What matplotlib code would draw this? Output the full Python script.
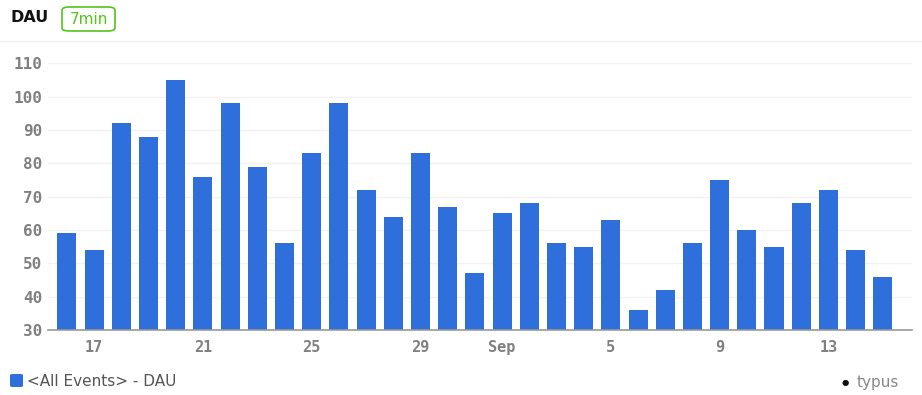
import matplotlib.pyplot as plt
from matplotlib.patches import FancyBboxPatch
import numpy as np

# daily active users, Aug 16 -> Sep 15
days = list(range(16, 32)) + list(range(1, 16))
dau = [59, 54, 92, 88, 105, 76, 98, 79, 56, 83, 98, 72, 64, 83, 67, 47,
       65, 68, 56, 55, 63, 36, 42, 56, 75, 60, 55, 68, 72, 54, 46]
tick_idx = [1, 5, 9, 13, 16, 20, 24, 28]
tick_labels = ["17", "21", "25", "29", "Sep", "5", "9", "13"]
yticks = [30, 40, 50, 60, 70, 80, 90, 100, 110]

blue = "#2f6fdc"
grey = "#808080"

fig = plt.figure(figsize=(9.22, 3.95), dpi=100)
ax = fig.add_axes([0.052, 0.1646, 0.937, 0.709])

x = np.arange(len(dau))
ax.bar(x, dau, width=0.7, color=blue, zorder=3)

ax.set_ylim(30, 114)
ax.set_xlim(-0.7, len(dau) - 1 + 1.07)
ax.set_yticks(yticks)
ax.set_yticklabels([str(v) for v in yticks], family="DejaVu Sans Mono",
                   fontsize=11.5, color=grey, weight="bold")
ax.set_xticks(tick_idx)
ax.set_xticklabels(tick_labels, family="DejaVu Sans Mono", fontsize=11,
                   color=grey, weight="bold")
ax.tick_params(axis="y", length=0, pad=4)
ax.tick_params(axis="x", length=0, pad=7)
ax.grid(axis="y", color="#f2f2f2", linewidth=1, zorder=0)
for s in ["top", "right", "left"]:
    ax.spines[s].set_visible(False)
ax.spines["bottom"].set_color("#999999")
ax.spines["bottom"].set_linewidth(1.2)
ax.spines["bottom"].set_zorder(4)

# header
fig.text(10 / 922, 1 - 18 / 395, "DAU", fontsize=11.5, weight="semibold",
         color="#111111", va="center", ha="left")
badge = FancyBboxPatch((62 / 922, 1 - 31 / 395), 53 / 922, 24 / 395,
                       boxstyle="round,pad=0,rounding_size=0.008",
                       transform=fig.transFigure, facecolor="white",
                       edgecolor="#52c41a", linewidth=1.2)
fig.patches.append(badge)
fig.text(88.5 / 922, 1 - 19 / 395, "7min", fontsize=11, color="#52c41a",
         va="center", ha="center")
fig.add_artist(plt.Line2D([0, 1], [1 - 41 / 395, 1 - 41 / 395],
                          transform=fig.transFigure, color="#eeeff2",
                          linewidth=1))

# legend
leg_box = FancyBboxPatch((10 / 922, 1 - 387 / 395), 13 / 922, 13 / 395,
                         boxstyle="round,pad=0,rounding_size=0.003",
                         transform=fig.transFigure, facecolor=blue,
                         edgecolor="none")
fig.patches.append(leg_box)
fig.text(27 / 922, 1 - 381 / 395, "<All Events> - DAU", fontsize=11,
         color="#555555", va="center", ha="left")

# watermark
fig.text(845 / 922, 1 - 383 / 395, "\u25cf", fontsize=6, color="#111111",
         va="center", ha="center")
fig.text(857 / 922, 1 - 383 / 395, "typus", fontsize=11, color="#888888",
         va="center", ha="left")

fig.savefig("out.png", dpi=100)
